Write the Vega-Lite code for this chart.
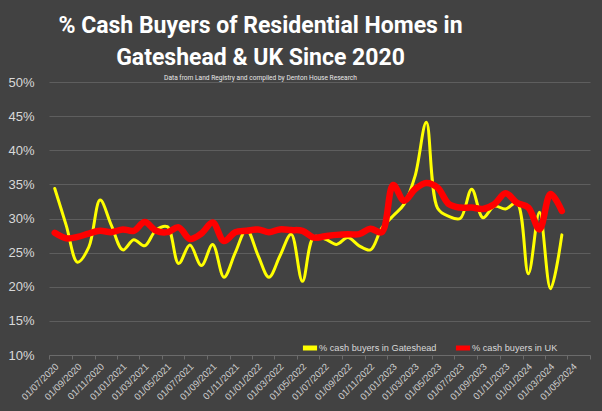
{
  "$schema": "https://vega.github.io/schema/vega-lite/v6.json",
  "width": 541,
  "height": 273,
  "autosize": {"type": "none"},
  "padding": {"left": 49, "top": 82, "right": 12, "bottom": 56},
  "background": "#424242",
  "title": {
    "text": ["% Cash Buyers of Residential Homes in", "Gateshead & UK Since 2020"],
    "subtitle": "Data from Land Registry and compiled by Denton House Research",
    "anchor": "middle",
    "dx": -59,
    "font": "Roboto",
    "fontSize": 23,
    "fontWeight": "bold",
    "color": "#ffffff",
    "lineHeight": 32,
    "subtitleFont": "Roboto",
    "subtitleFontSize": 6.6,
    "subtitleColor": "#e8e8e8",
    "subtitlePadding": 5,
    "offset": -6
  },
  "config": {"view": {"stroke": null}},
  "data": {
    "values": [
      {"date": "2020-07-01", "series": "% cash buyers in Gateshead", "pct": 34.4},
      {"date": "2020-08-01", "series": "% cash buyers in Gateshead", "pct": 29.0},
      {"date": "2020-09-01", "series": "% cash buyers in Gateshead", "pct": 23.6},
      {"date": "2020-10-01", "series": "% cash buyers in Gateshead", "pct": 25.8},
      {"date": "2020-11-01", "series": "% cash buyers in Gateshead", "pct": 32.7},
      {"date": "2020-12-01", "series": "% cash buyers in Gateshead", "pct": 29.0},
      {"date": "2021-01-01", "series": "% cash buyers in Gateshead", "pct": 25.4},
      {"date": "2021-02-01", "series": "% cash buyers in Gateshead", "pct": 26.9},
      {"date": "2021-03-01", "series": "% cash buyers in Gateshead", "pct": 26.0},
      {"date": "2021-04-01", "series": "% cash buyers in Gateshead", "pct": 28.3},
      {"date": "2021-05-01", "series": "% cash buyers in Gateshead", "pct": 28.8},
      {"date": "2021-06-01", "series": "% cash buyers in Gateshead", "pct": 23.4},
      {"date": "2021-07-01", "series": "% cash buyers in Gateshead", "pct": 26.1},
      {"date": "2021-08-01", "series": "% cash buyers in Gateshead", "pct": 23.1},
      {"date": "2021-09-01", "series": "% cash buyers in Gateshead", "pct": 26.2},
      {"date": "2021-10-01", "series": "% cash buyers in Gateshead", "pct": 21.4},
      {"date": "2021-11-01", "series": "% cash buyers in Gateshead", "pct": 25.0},
      {"date": "2021-12-01", "series": "% cash buyers in Gateshead", "pct": 28.4},
      {"date": "2022-01-01", "series": "% cash buyers in Gateshead", "pct": 24.6},
      {"date": "2022-02-01", "series": "% cash buyers in Gateshead", "pct": 21.4},
      {"date": "2022-03-01", "series": "% cash buyers in Gateshead", "pct": 24.5},
      {"date": "2022-04-01", "series": "% cash buyers in Gateshead", "pct": 27.7},
      {"date": "2022-05-01", "series": "% cash buyers in Gateshead", "pct": 20.8},
      {"date": "2022-06-01", "series": "% cash buyers in Gateshead", "pct": 27.3},
      {"date": "2022-07-01", "series": "% cash buyers in Gateshead", "pct": 27.0},
      {"date": "2022-08-01", "series": "% cash buyers in Gateshead", "pct": 26.2},
      {"date": "2022-09-01", "series": "% cash buyers in Gateshead", "pct": 27.2},
      {"date": "2022-10-01", "series": "% cash buyers in Gateshead", "pct": 26.0},
      {"date": "2022-11-01", "series": "% cash buyers in Gateshead", "pct": 25.4},
      {"date": "2022-12-01", "series": "% cash buyers in Gateshead", "pct": 28.6},
      {"date": "2023-01-01", "series": "% cash buyers in Gateshead", "pct": 30.4},
      {"date": "2023-02-01", "series": "% cash buyers in Gateshead", "pct": 32.1},
      {"date": "2023-03-01", "series": "% cash buyers in Gateshead", "pct": 36.2},
      {"date": "2023-04-01", "series": "% cash buyers in Gateshead", "pct": 44.1},
      {"date": "2023-05-01", "series": "% cash buyers in Gateshead", "pct": 31.5},
      {"date": "2023-06-01", "series": "% cash buyers in Gateshead", "pct": 30.3},
      {"date": "2023-07-01", "series": "% cash buyers in Gateshead", "pct": 30.0},
      {"date": "2023-08-01", "series": "% cash buyers in Gateshead", "pct": 34.3},
      {"date": "2023-09-01", "series": "% cash buyers in Gateshead", "pct": 30.1},
      {"date": "2023-10-01", "series": "% cash buyers in Gateshead", "pct": 31.8},
      {"date": "2023-11-01", "series": "% cash buyers in Gateshead", "pct": 31.4},
      {"date": "2023-12-01", "series": "% cash buyers in Gateshead", "pct": 32.3},
      {"date": "2024-01-01", "series": "% cash buyers in Gateshead", "pct": 21.9},
      {"date": "2024-02-01", "series": "% cash buyers in Gateshead", "pct": 30.9},
      {"date": "2024-03-01", "series": "% cash buyers in Gateshead", "pct": 19.7},
      {"date": "2024-04-01", "series": "% cash buyers in Gateshead", "pct": 27.6},
      {"date": "2020-07-01", "series": "% cash buyers in UK", "pct": 27.9},
      {"date": "2020-08-01", "series": "% cash buyers in UK", "pct": 27.1},
      {"date": "2020-09-01", "series": "% cash buyers in UK", "pct": 27.3},
      {"date": "2020-10-01", "series": "% cash buyers in UK", "pct": 27.8},
      {"date": "2020-11-01", "series": "% cash buyers in UK", "pct": 28.2},
      {"date": "2020-12-01", "series": "% cash buyers in UK", "pct": 28.0},
      {"date": "2021-01-01", "series": "% cash buyers in UK", "pct": 28.4},
      {"date": "2021-02-01", "series": "% cash buyers in UK", "pct": 28.2},
      {"date": "2021-03-01", "series": "% cash buyers in UK", "pct": 29.5},
      {"date": "2021-04-01", "series": "% cash buyers in UK", "pct": 28.2},
      {"date": "2021-05-01", "series": "% cash buyers in UK", "pct": 28.0},
      {"date": "2021-06-01", "series": "% cash buyers in UK", "pct": 28.7},
      {"date": "2021-07-01", "series": "% cash buyers in UK", "pct": 27.0},
      {"date": "2021-08-01", "series": "% cash buyers in UK", "pct": 27.8},
      {"date": "2021-09-01", "series": "% cash buyers in UK", "pct": 29.4},
      {"date": "2021-10-01", "series": "% cash buyers in UK", "pct": 26.7},
      {"date": "2021-11-01", "series": "% cash buyers in UK", "pct": 28.0},
      {"date": "2021-12-01", "series": "% cash buyers in UK", "pct": 28.2},
      {"date": "2022-01-01", "series": "% cash buyers in UK", "pct": 28.4},
      {"date": "2022-02-01", "series": "% cash buyers in UK", "pct": 28.0},
      {"date": "2022-03-01", "series": "% cash buyers in UK", "pct": 28.4},
      {"date": "2022-04-01", "series": "% cash buyers in UK", "pct": 28.3},
      {"date": "2022-05-01", "series": "% cash buyers in UK", "pct": 28.2},
      {"date": "2022-06-01", "series": "% cash buyers in UK", "pct": 27.2},
      {"date": "2022-07-01", "series": "% cash buyers in UK", "pct": 27.4},
      {"date": "2022-08-01", "series": "% cash buyers in UK", "pct": 27.6},
      {"date": "2022-09-01", "series": "% cash buyers in UK", "pct": 27.7},
      {"date": "2022-10-01", "series": "% cash buyers in UK", "pct": 27.7},
      {"date": "2022-11-01", "series": "% cash buyers in UK", "pct": 28.5},
      {"date": "2022-12-01", "series": "% cash buyers in UK", "pct": 28.0},
      {"date": "2023-01-01", "series": "% cash buyers in UK", "pct": 34.9},
      {"date": "2023-02-01", "series": "% cash buyers in UK", "pct": 32.6},
      {"date": "2023-03-01", "series": "% cash buyers in UK", "pct": 34.3},
      {"date": "2023-04-01", "series": "% cash buyers in UK", "pct": 35.2},
      {"date": "2023-05-01", "series": "% cash buyers in UK", "pct": 34.5},
      {"date": "2023-06-01", "series": "% cash buyers in UK", "pct": 32.1},
      {"date": "2023-07-01", "series": "% cash buyers in UK", "pct": 31.6},
      {"date": "2023-08-01", "series": "% cash buyers in UK", "pct": 31.6},
      {"date": "2023-09-01", "series": "% cash buyers in UK", "pct": 31.4},
      {"date": "2023-10-01", "series": "% cash buyers in UK", "pct": 32.1},
      {"date": "2023-11-01", "series": "% cash buyers in UK", "pct": 33.7},
      {"date": "2023-12-01", "series": "% cash buyers in UK", "pct": 32.3},
      {"date": "2024-01-01", "series": "% cash buyers in UK", "pct": 31.6},
      {"date": "2024-02-01", "series": "% cash buyers in UK", "pct": 28.4},
      {"date": "2024-03-01", "series": "% cash buyers in UK", "pct": 33.6},
      {"date": "2024-04-01", "series": "% cash buyers in UK", "pct": 31.1}
    ]
  },
  "mark": {"type": "line", "interpolate": "catmull-rom", "strokeCap": "round", "strokeJoin": "round"},
  "encoding": {
    "x": {
      "field": "date",
      "type": "temporal",
      "timeUnit": "utcyearmonth",
      "bandPosition": 0.5,
      "scale": {
        "type": "utc",
        "domain": [
          {"year": 2020, "month": 7, "date": 1, "utc": true},
          {"year": 2024, "month": 7, "date": 1, "utc": true}
        ]
      },
      "axis": {
        "title": null,
        "grid": false,
        "values": [
          {"year": 2020, "month": 7, "date": 1, "utc": true},
          {"year": 2020, "month": 9, "date": 1, "utc": true},
          {"year": 2020, "month": 11, "date": 1, "utc": true},
          {"year": 2021, "month": 1, "date": 1, "utc": true},
          {"year": 2021, "month": 3, "date": 1, "utc": true},
          {"year": 2021, "month": 5, "date": 1, "utc": true},
          {"year": 2021, "month": 7, "date": 1, "utc": true},
          {"year": 2021, "month": 9, "date": 1, "utc": true},
          {"year": 2021, "month": 11, "date": 1, "utc": true},
          {"year": 2022, "month": 1, "date": 1, "utc": true},
          {"year": 2022, "month": 3, "date": 1, "utc": true},
          {"year": 2022, "month": 5, "date": 1, "utc": true},
          {"year": 2022, "month": 7, "date": 1, "utc": true},
          {"year": 2022, "month": 9, "date": 1, "utc": true},
          {"year": 2022, "month": 11, "date": 1, "utc": true},
          {"year": 2023, "month": 1, "date": 1, "utc": true},
          {"year": 2023, "month": 3, "date": 1, "utc": true},
          {"year": 2023, "month": 5, "date": 1, "utc": true},
          {"year": 2023, "month": 7, "date": 1, "utc": true},
          {"year": 2023, "month": 9, "date": 1, "utc": true},
          {"year": 2023, "month": 11, "date": 1, "utc": true},
          {"year": 2024, "month": 1, "date": 1, "utc": true},
          {"year": 2024, "month": 3, "date": 1, "utc": true},
          {"year": 2024, "month": 5, "date": 1, "utc": true},
          {"year": 2024, "month": 7, "date": 1, "utc": true}
        ],
        "labelExpr": "utcyear(datum.value) == 2024 && utcmonth(datum.value) == 6 ? '' : utcFormat(datum.value, '%d/%m/%Y')",
        "labelAngle": -45,
        "labelOffset": 4,
        "labelFont": "Liberation Sans",
        "labelFontSize": 9.5,
        "labelColor": "#cfcfcf",
        "labelOverlap": false,
        "labelFlush": false,
        "labelBound": false,
        "domainColor": "#6b6b6b",
        "tickColor": "#6b6b6b",
        "tickSize": 4
      }
    },
    "y": {
      "field": "pct",
      "type": "quantitative",
      "scale": {"domain": [10, 50], "nice": false, "zero": false},
      "axis": {
        "title": null,
        "values": [10, 15, 20, 25, 30, 35, 40, 45, 50],
        "labelExpr": "datum.value + '%'",
        "domain": false,
        "ticks": false,
        "grid": true,
        "gridColor": "#5e5e5e",
        "labelPadding": 15,
        "labelFont": "Liberation Sans",
        "labelFontSize": 13,
        "labelColor": "#d9d9d9"
      }
    },
    "color": {
      "field": "series",
      "type": "nominal",
      "scale": {
        "domain": ["% cash buyers in Gateshead", "% cash buyers in UK"],
        "range": ["#ffff00", "#ff0000"]
      },
      "legend": {
        "title": null,
        "orient": "none",
        "legendX": 251,
        "legendY": 256,
        "direction": "horizontal",
        "gridAlign": "none",
        "symbolType": "stroke",
        "symbolSize": 200,
        "symbolStrokeWidth": 5,
        "labelFont": "Liberation Sans",
        "labelFontSize": 9.2,
        "labelColor": "#d9d9d9",
        "labelOffset": -1,
        "columnPadding": 8
      }
    },
    "strokeWidth": {
      "condition": {"test": "datum.series == '% cash buyers in UK'", "value": 6.5},
      "value": 3
    }
  }
}
